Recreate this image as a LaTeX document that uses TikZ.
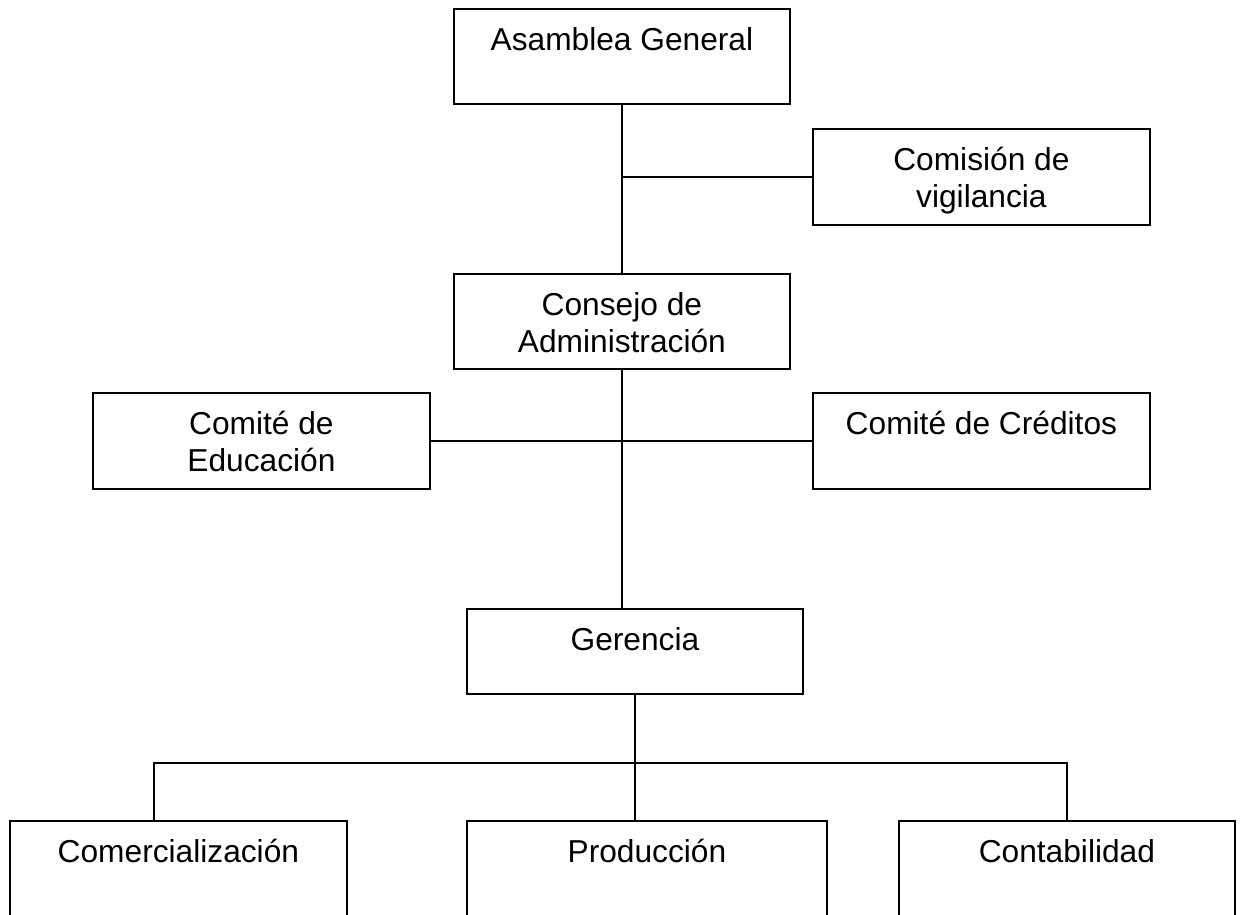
\documentclass[tikz,border=0pt]{standalone}
\usepackage{fontspec}
\setmainfont{Liberation Sans}
\usetikzlibrary{calc}
\begin{document}
\begin{tikzpicture}[x=1pt,y=-1pt,
  orgbox/.style={draw=black,line width=1.8pt,rectangle,inner sep=0pt,anchor=north west},
  lbl/.style={font=\fontsize{31.7}{37}\selectfont,align=center,anchor=base,inner sep=0pt},
  conn/.style={line width=1.8pt,line join=miter}]
\clip (0,0) rectangle (1240,914);
\fill[white] (0,0) rectangle (1240,914);
% boxes
\node[orgbox,minimum width=336pt,minimum height=95pt] (ag) at (453,8) {};
\node[orgbox,minimum width=337pt,minimum height=96pt] (com) at (812,128) {};
\node[orgbox,minimum width=336pt,minimum height=95pt] (con) at (453,273) {};
\node[orgbox,minimum width=337pt,minimum height=96pt] (edu) at (92,392) {};
\node[orgbox,minimum width=337pt,minimum height=96pt] (cre) at (812,392) {};
\node[orgbox,minimum width=336pt,minimum height=85pt] (ger) at (466,608) {};
\node[orgbox,minimum width=337pt,minimum height=140pt] (comer) at (9,820) {};
\node[orgbox,minimum width=360pt,minimum height=140pt] (prod) at (466,820) {};
\node[orgbox,minimum width=336pt,minimum height=140pt] (cont) at (898,820) {};
% labels (base anchor = baseline of last line)
\node[lbl] (agt) at ($(ag.north)+(0,42)$) {Asamblea General};
\node[lbl] (comt) at ($(com.north)+(0,79)$) {Comisión de\\vigilancia};
\node[lbl] (cont1) at ($(con.north)+(0,79)$) {Consejo de\\Administración};
\node[lbl] (edut) at ($(edu.north)+(0,79)$) {Comité de\\Educación};
\node[lbl] (cret) at ($(cre.north)+(0,42)$) {Comité de Créditos};
\node[lbl] (gert) at ($(ger.north)+(0,42)$) {Gerencia};
\node[lbl] (comert) at ($(comer.north)+(0,42)$) {Comercialización};
\node[lbl] (prodt) at ($(prod.north)+(0,42)$) {Producción};
\node[lbl] (contt) at ($(cont.north)+(0,42)$) {Contabilidad};
% connectors
\draw[conn] (ag.south) -- (con.north);
\draw[conn] (com.west) -- (com.west -| ag.south);
\draw[conn] (con.south) -- (con.south |- ger.north);
\draw[conn] (edu.east) -- (cre.west);
\draw[conn] (ger.south) -- (ger.south |- prod.north);
\coordinate (bl) at (154,763);
\coordinate (br) at (cont.north |- bl);
\draw[conn] (bl |- comer.north) -- (bl) -- (br) -- (cont.north);
\end{tikzpicture}
\end{document}
